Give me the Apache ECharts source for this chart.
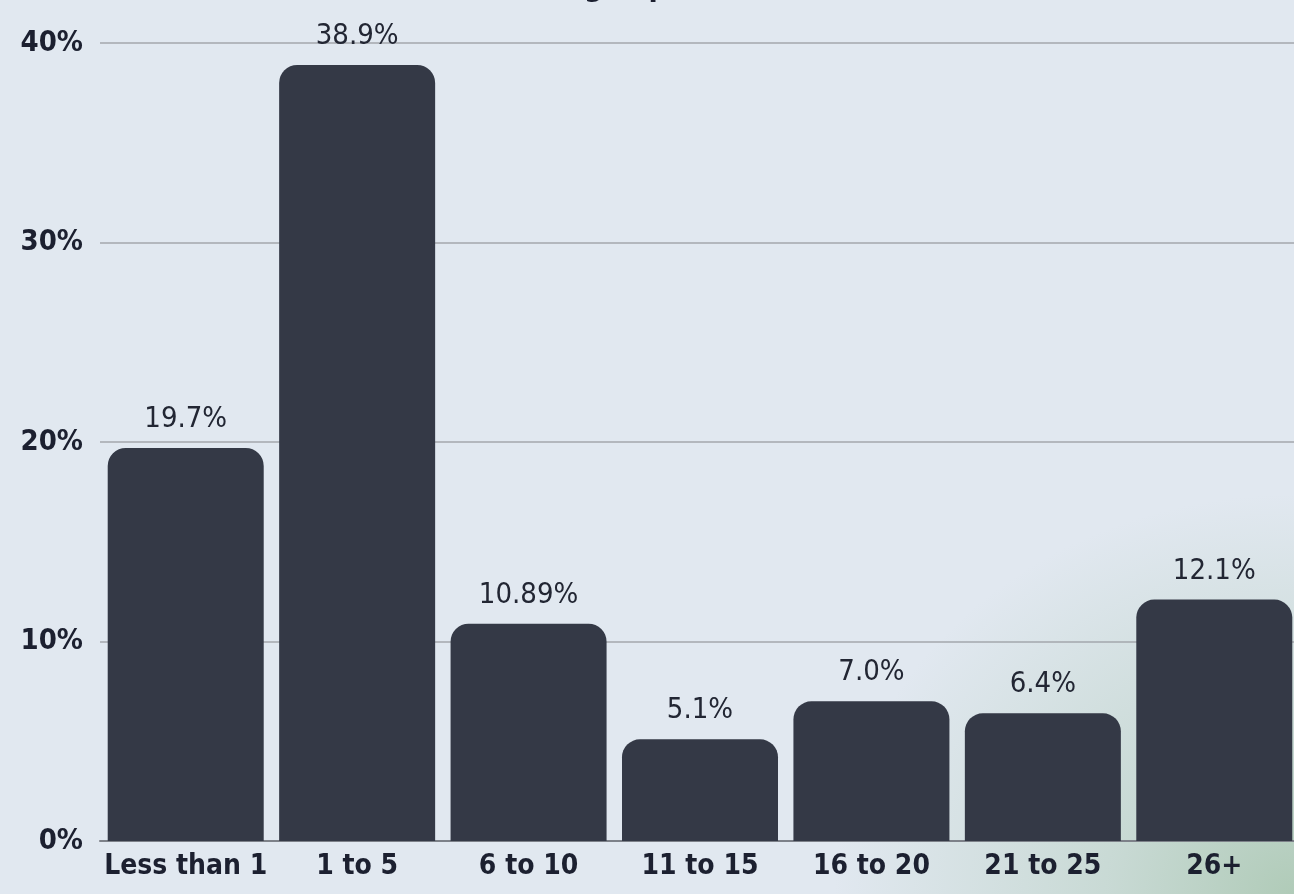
<!DOCTYPE html>
<html>
<head>
<meta charset="utf-8">
<script src="https://cdn.jsdelivr.net/npm/echarts@6/dist/echarts.min.js"></script>
<style>
  html, body {
    margin: 0;
    padding: 0;
    width: 1294px;
    height: 894px;
    overflow: hidden;
    background:
      radial-gradient(ellipse 460px 400px at 100% 100%, rgba(176, 203, 184, 1) 0%, rgba(184, 208, 194, 0.6) 40%, rgba(225, 232, 240, 0) 100%),
      #e1e8f0;
  }
  #chart {
    width: 1302px;
    height: 894px;
  }
</style>
</head>
<body>
<div id="chart"></div>
<script>
const categories = ["Less than 1", "1 to 5", "6 to 10", "11 to 15", "16 to 20", "21 to 25", "26+"];
const shares = [19.7, 38.9, 10.89, 5.1, 7.0, 6.4, 12.1];
const shareLabels = ["19.7%", "38.9%", "10.89%", "5.1%", "7.0%", "6.4%", "12.1%"];
const yTicks = [0, 10, 20, 30, 40];

const labelFont = "DejaVu Sans Condensed";

let my_chart = echarts.init(document.getElementById("chart"));
my_chart.setOption({
  backgroundColor: "transparent",
  title: {
    text: "Years of Coding Experience",
    left: 366,
    top: -27,
    padding: 0,
    textStyle: {
      fontFamily: labelFont,
      fontWeight: "bold",
      fontSize: 30,
      color: "#1c2030",
    },
  },
  grid: {
    left: 100,
    right: 2,
    top: 43,
    bottom: 53,
  },
  xAxis: {
    type: "category",
    data: categories,
    axisTick: { show: false },
    axisLine: {
      lineStyle: { color: "#7d8189", width: 2 },
    },
    axisLabel: {
      interval: 0,
      hideOverlap: false,
      margin: 12,
      fontFamily: labelFont,
      fontWeight: "bold",
      fontSize: 28,
      color: "#1c2030",
    },
  },
  yAxis: {
    type: "value",
    min: yTicks[0],
    max: yTicks[yTicks.length - 1],
    interval: 10,
    axisLine: { show: false },
    axisTick: { show: false },
    splitLine: {
      lineStyle: { color: "#a3a7ad", width: 1.5 },
    },
    axisLabel: {
      margin: 17,
      formatter: "{value}%",
      fontFamily: labelFont,
      fontWeight: "bold",
      fontSize: 29,
      color: "#1c2030",
    },
  },
  series: [
    {
      type: "bar",
      data: shares,
      barWidth: 156,
      itemStyle: {
        color: "#343946",
        borderRadius: [18, 18, 0, 0],
      },
      label: {
        show: true,
        position: "top",
        distance: 14,
        fontFamily: labelFont,
        fontSize: 29,
        color: "#222633",
        formatter: (p) => shareLabels[p.dataIndex],
      },
    },
  ],
});
</script>
</body>
</html>
